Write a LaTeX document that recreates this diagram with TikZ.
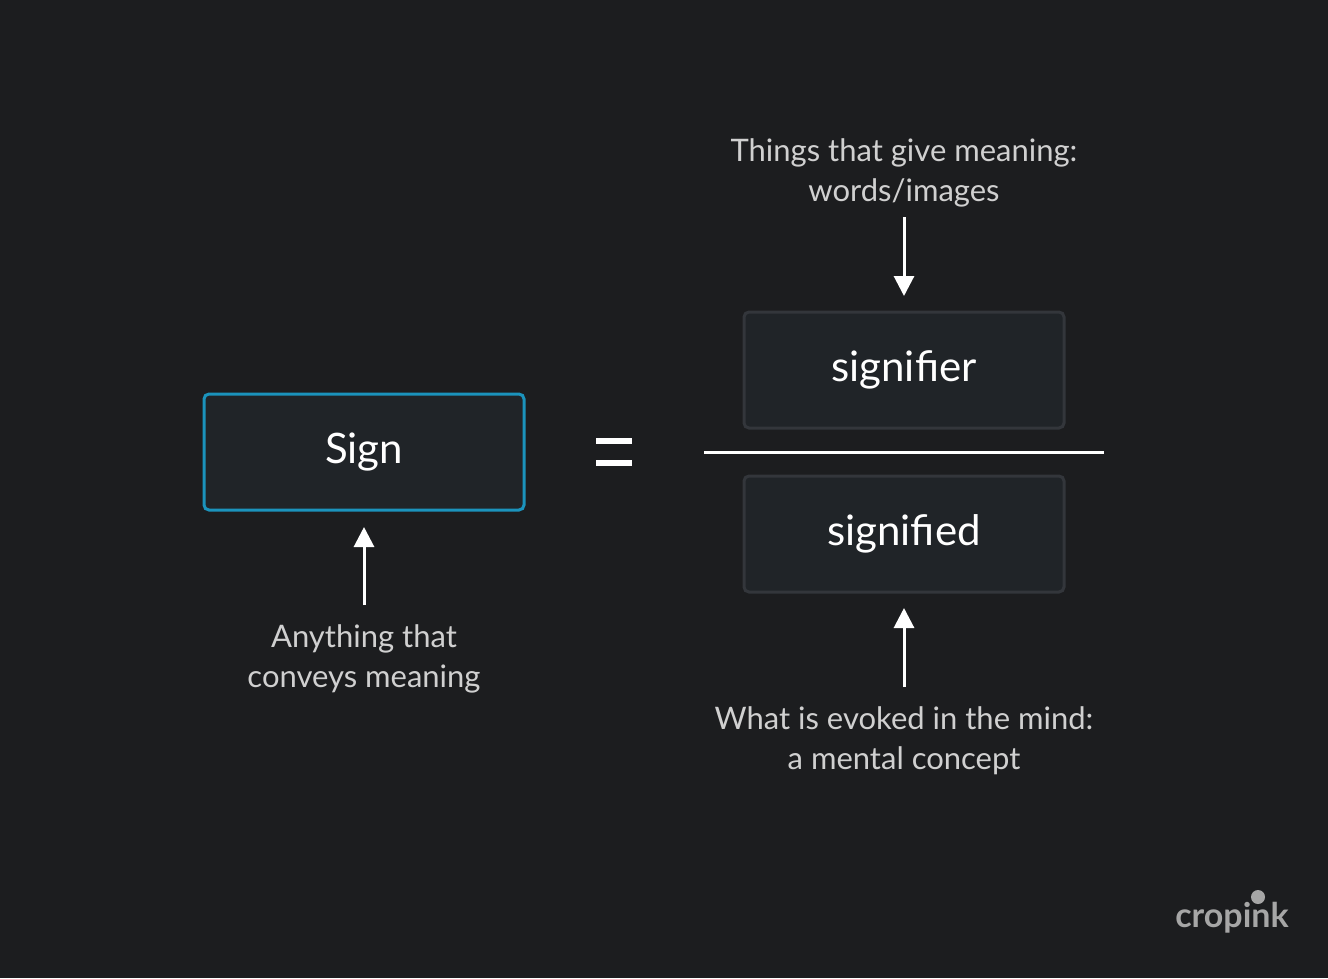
\documentclass[tikz,border=0pt]{standalone}
\usepackage{fontspec}
\setmainfont{Lato}
\usetikzlibrary{arrows.meta}
\definecolor{bgc}{HTML}{1C1D1F}
\definecolor{boxc}{HTML}{202428}
\definecolor{edgec}{HTML}{33363B}
\definecolor{teal}{HTML}{1B93BC}
\definecolor{txtc}{HTML}{D0D0D0}
\begin{document}
\begin{tikzpicture}
  [
    x=1pt, y=-1pt,
    block/.style =
      {draw=edgec, line width=3pt, fill=boxc, rounded corners=5pt,
       minimum width=320pt, minimum height=116pt, text=white,
       font=\fontsize{42}{44}\selectfont},
    note/.style =
      {align=center, text=txtc, font=\fontsize{31}{40}\selectfont},
    arr/.style =
      {draw=white, line width=3pt, -{Triangle[length=20pt,width=20pt]}}
  ]
  \fill[bgc] (0,0) rectangle (1328,978);
  \useasboundingbox (0,0) rectangle (1328,978);

  \node [block, draw=teal] at (364,452) (sign) {Sign};
  \node [block] at (904,370) (sr) {signifier};
  \node [block] at (904,534) (sd) {signified};

  \node [note] at (364,659) (nsign) {Anything that\\conveys meaning};
  \node [note] at (904,173) (nsr) {Things that give meaning:\\words/images};
  \node [note] at (904,741) (nsd) {What is evoked in the mind:\\a mental concept};

  % fraction bar and equals sign
  \coordinate (bl) at (704,452);
  \coordinate (br) at (1104,452);
  \draw[white, line width=3pt] (bl) -- (br);
  \coordinate (e1) at (596,441); \coordinate (e2) at (632,441);
  \coordinate (e3) at (596,463); \coordinate (e4) at (632,463);
  \draw[white, line width=6pt] (e1) -- (e2) (e3) -- (e4);

  % arrows
  \coordinate (a1) at (364,605); \coordinate (a2) at (364,527);
  \coordinate (a3) at (904,217); \coordinate (a4) at (904,296);
  \coordinate (a5) at (904,687); \coordinate (a6) at (904,608);
  \draw[arr] (a1) -- (a2);
  \draw[arr] (a3) -- (a4);
  \draw[arr] (a5) -- (a6);

  % logo
  \node [text=gray!70, font=\fontsize{34}{34}\selectfont\bfseries] at (1232,918) (logo) {cropink};
  \fill[gray!70] (1258,897) circle (7pt);
\end{tikzpicture}
\end{document}
